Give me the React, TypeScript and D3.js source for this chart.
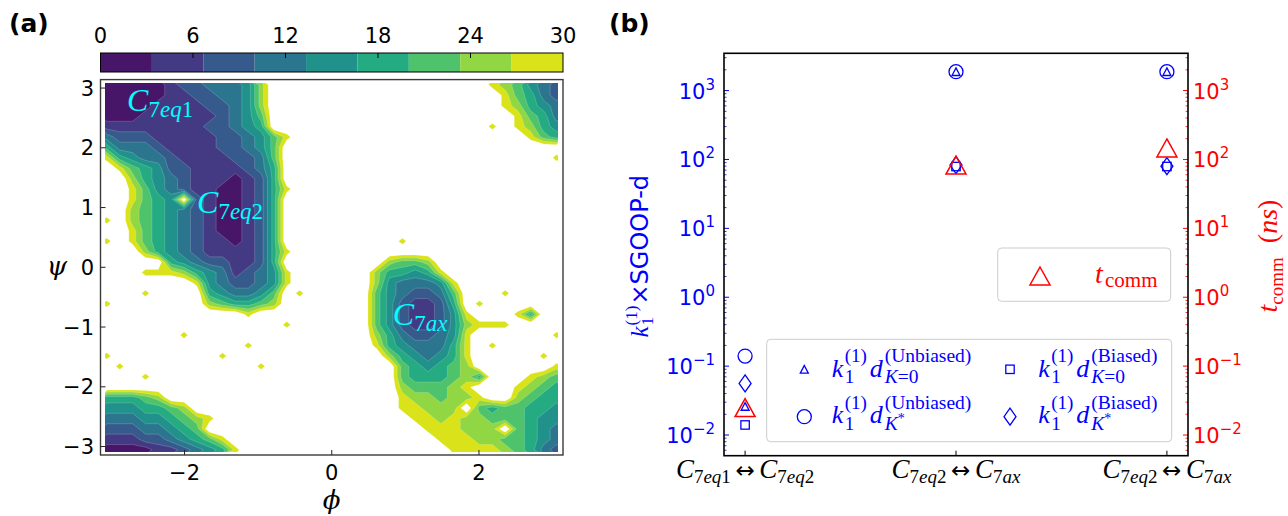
import * as d3 from 'd3';

// ---------------- panel (a): free energy surface ----------------
// contour levels (colorbar 0..30, nine bands)
const fesLevels = [0, 10 / 3, 20 / 3, 10, 40 / 3, 50 / 3, 20, 70 / 3, 80 / 3, 30];
const colorbarTicks = [0, 6, 12, 18, 24, 30];
const EMPTY_FES = 34; // not sampled -> above the top level

// band index (0..8) on a 36x36 grid,
// rows from psi=+pi down to -pi, columns from phi=-pi to +pi.
// numbers are runs of unsampled (white) cells.
const fesRuns: (string | number)[][] = [
  ['0000012233347', 17, '876432'],
  ['0000011223347', 18, '86532'],
  ['0000111122347', 18, '87543'],
  ['0001111112346', 19, '8653'],
  ['1111111122345', 17, '8', 1, '8754'],
  ['322211111223468', 18, '865'],
  ['53332111122346', 22],
  ['85433211112236', 21, '8'],
  [1, '8654221111235', 22],
  [2, '754321110125', 22],
  [2, '8643211001258', 21],
  [2, '8654', 1, '2100125', 22],
  [2, '765432100125', 22],
  ['8', 1, '765432100125', 22],
  [2, '865432100125', 22],
  ['8', 1, '865432110125', 9, '8', 12],
  [3, '754321111258', 21],
  [5, '543221125', 8, '7667', 10],
  [3, '888754312348', 6, '755458', 9],
  [7, '84322348', 6, '7433348', 8],
  [3, '8', 4, '543346', 1, '8', 5, '6432236', 3, '8', 4],
  ['8', 7, '765567', 7, '6421125', 1, '8', 6],
  [11, '8', 9, '64211248', 3, '85', 2],
  [14, '8', 6, '64211247888', 4],
  [6, '8', 14, '75322348', 6, '8'],
  [11, '8', 9, '85433358', 1, '8', 5],
  ['8', 8, '8', 12, '7543458', 5, '8', 1],
  [1, '8', 10, '8', 10, '654567', 6, '8'],
  [3, '8', 19, '6555675', 3, '876'],
  [23, '766678', 3, '8765'],
  ['55567', 18, '8776778', 2, '7655'],
  ['4445567', 16, '88777', 1, '6566554'],
  ['333445678', 15, '887877666544'],
  ['22233456', 17, '888777', 1, '6543'],
  ['1112234568', 16, '8887766543'],
  ['00001123458', 16, '888876532'],
];

const phiTicks = [-2, 0, 2];
const psiTicks = [-3, -2, -1, 0, 1, 2, 3];
const basinLabels = [
  { sub: '7eq1', phi: -2.78, psi: 2.62 },
  { sub: '7eq2', phi: -1.83, psi: 0.91 },
  { sub: '7ax', phi: 0.83, psi: -0.97 },
];

// ---------------- panel (b): rates per transition ----------------
const transitions = [['7eq1', '7eq2'], ['7eq2', '7ax'], ['7eq2', '7ax']];
const unbiasedK0 = [0.026, 1880, 1880];
const unbiasedKStar = [0.14, 1880, 1880];
const biasedK0 = [0.014, 79, 79];
const biasedKStar = [0.056, 83, 80];
const tComm = [0.025, 83, 147];
const logDecades = [-2, -1, 0, 1, 2, 3];

// ---------------- scales ----------------
const xA = d3.scaleLinear().domain([-Math.PI, Math.PI]).range([100.5, 563]);
const yA = d3.scaleLinear().domain([-Math.PI, Math.PI]).range([455, 79.6]);
const cbX = d3.scaleLinear().domain([0, 30]).range([100.5, 563]);
const bandColor = (k: number) => d3.interpolateViridis((k + 0.5) / 9);

const fesRows = fesRuns.map(r => r.map(p => (typeof p === 'number' ? '.'.repeat(p) : p)).join(''));
const nx = fesRows[0].length;
const ny = fesRows.length;
const fesValues = fesRows.flatMap(row =>
  Array.from(row, ch => (ch === '.' ? -EMPTY_FES : -(fesLevels[+ch] + fesLevels[+ch + 1]) / 2))
);
const fesContours = d3.contours().size([nx, ny]).thresholds(fesLevels.slice(1).map(t => -t))(fesValues);

const gx = d3.scaleLinear().domain([0, nx]).range([xA(-Math.PI), xA(Math.PI)]);
const gy = d3.scaleLinear().domain([0, ny]).range([yA(Math.PI), yA(-Math.PI)]);
const gridPath = d3.geoPath(
  d3.geoTransform({
    point(x: number, y: number) {
      this.stream.point(gx(x), gy(y));
    },
  })
);

const xB = d3.scaleLinear().domain([-0.1, 2.1]).range([724, 1188]);
const yB = d3.scaleLog().domain([10 ** -2.3, 10 ** 3.541]).range([455.7, 53.3]);
const minorB = yB.ticks().filter(v => Math.abs(Math.log10(v) - Math.round(Math.log10(v))) > 1e-6);

const minus = (v: number) => (v < 0 ? '\u2212' + Math.abs(v) : String(v));
const SERIF = 'Liberation Serif';

const mathSub = (s: string) =>
  Array.from(s).map((ch, i) => (
    <tspan key={i} fontStyle={/\d/.test(ch) ? 'normal' : 'italic'}>
      {ch}
    </tspan>
  ));

function Marker({ shape, x, y, color, sw = 1.3 }: any) {
  const common = { fill: 'none', stroke: color, strokeWidth: sw };
  if (shape === 'circle') return <circle cx={x} cy={y} r={7} {...common} />;
  if (shape === 'square') return <rect x={x - 4.2} y={y - 4.2} width={8.4} height={8.4} {...common} />;
  if (shape === 'diamond')
    return <path d={`M${x},${y - 8.5}L${x + 6},${y}L${x},${y + 8.5}L${x - 6},${y}Z`} {...common} />;
  if (shape === 'bigtri')
    return <path d={`M${x},${y - 9}L${x + 10},${y + 9}L${x - 10},${y + 9}Z`} {...common} />;
  return <path d={`M${x},${y - 3.8}L${x + 4},${y + 3.8}L${x - 4},${y + 3.8}Z`} {...common} />;
}

function KD({ x, y, sup, star }: { x: number; y: number; sup: string; star: boolean }) {
  return (
    <g fontFamily={SERIF} fill="blue">
      <text x={x} y={y} fontSize={26} fontStyle="italic">k</text>
      <text x={x + 13} y={y - 14.5} fontSize={19}>(1)</text>
      <text x={x + 13} y={y + 6.5} fontSize={19}>1</text>
      <text x={x + 38} y={y} fontSize={26} fontStyle="italic">d</text>
      <text x={x + 53} y={y - 14.5} fontSize={19.5}>({sup})</text>
      <text x={x + 53} y={y + 6.5} fontSize={19.5}>
        <tspan fontStyle="italic">K</tspan>
        {star ? (
          <tspan fontSize={14} dy={-7}>*</tspan>
        ) : (
          '=0'
        )}
      </text>
    </g>
  );
}

function PowerLabel({ x, y, e, color, anchor }: any) {
  return (
    <text x={x} y={y} fontSize={21} fill={color} textAnchor={anchor}>
      10
      <tspan fontSize={15} dy={-9}>{minus(e)}</tspan>
    </text>
  );
}

function PanelA() {
  return (
    <g>
      <defs>
        <clipPath id="fesClip">
          <rect x={105} y={83} width={453} height={369} />
        </clipPath>
      </defs>
      <g clipPath="url(#fesClip)">
        {fesContours.map(c => {
          const k = fesLevels.findIndex(t => Math.abs(-t - c.value) < 1e-9) - 1;
          return (
            <path
              key={k}
              d={gridPath(c as any) || ''}
              fill={bandColor(k)}
              fillRule="evenodd"
              stroke="#ffffff"
              strokeOpacity={0.3}
              strokeWidth={0.6}
            />
          );
        })}
      </g>
      <rect x={100.5} y={79.6} width={462.5} height={375.4} fill="none" stroke="#3a3a3a" strokeWidth={1.4} />
      {phiTicks.map(t => (
        <g key={t}>
          <line x1={xA(t)} x2={xA(t)} y1={455} y2={450} stroke="#222" />
          <text x={xA(t)} y={480} fontSize={21} textAnchor="middle">{minus(t)}</text>
        </g>
      ))}
      {psiTicks.map(t => (
        <g key={t}>
          <line x1={100.5} x2={105.5} y1={yA(t)} y2={yA(t)} stroke="#222" />
          <text x={94} y={yA(t) + 7.5} fontSize={21} textAnchor="end">{minus(t)}</text>
        </g>
      ))}
      <text x={331.7} y={509} fontFamily="DejaVu Serif" fontStyle="italic" fontSize={26} textAnchor="middle">ϕ</text>
      <text x={57} y={275} fontFamily="DejaVu Serif" fontStyle="italic" fontSize={26} textAnchor="middle">ψ</text>
      {basinLabels.map(b => (
        <text key={b.sub} x={xA(b.phi)} y={yA(b.psi)} fill="#00ffff" fontFamily={SERIF} fontStyle="italic" fontSize={32}>
          C<tspan fontSize={23} dy={6}>{mathSub(b.sub)}</tspan>
        </text>
      ))}
      {/* colorbar */}
      {fesLevels.slice(0, -1).map((t, k) => (
        <rect key={k} x={cbX(t)} y={53} width={cbX(fesLevels[k + 1]) - cbX(t)} height={19} fill={bandColor(k)} />
      ))}
      <rect x={100.5} y={53} width={462.5} height={19} fill="none" stroke="#000" strokeWidth={1} />
      {colorbarTicks.map(t => (
        <g key={t}>
          {t > 0 && t < 30 && <line x1={cbX(t)} x2={cbX(t)} y1={53} y2={58} stroke="#000" />}
          <text x={cbX(t)} y={43} fontSize={21} textAnchor="middle">{t}</text>
        </g>
      ))}
      <text x={9} y={32} fontSize={25} fontWeight="bold">(a)</text>
    </g>
  );
}

function PanelB() {
  const cats = transitions.map((_, i) => i);
  return (
    <g>
      {/* data */}
      {cats.map(i => (
        <g key={i}>
          <Marker shape="circle" x={xB(i)} y={yB(unbiasedKStar[i])} color="blue" />
          <Marker shape="tri" x={xB(i)} y={yB(unbiasedK0[i])} color="blue" />
          <Marker shape="diamond" x={xB(i)} y={yB(biasedKStar[i])} color="blue" />
          <Marker shape="square" x={xB(i)} y={yB(biasedK0[i])} color="blue" />
          <Marker shape="bigtri" x={xB(i)} y={yB(tComm[i])} color="red" sw={1.5} />
        </g>
      ))}
      {/* legends */}
      <rect x={997.7} y={248} width={173} height={53.3} rx={4} fill="#fff" fillOpacity={0.8} stroke="#cccccc" />
      <Marker shape="bigtri" x={1040} y={276} color="red" sw={1.5} />
      <text x={1095} y={283} fontFamily={SERIF} fontSize={28} fill="red" fontStyle="italic">t</text>
      <text x={1105} y={287} fontFamily={SERIF} fontSize={21} fill="red">comm</text>

      <rect x={766.7} y={339.3} width={405} height={102.4} rx={4} fill="#fff" fillOpacity={0.8} stroke="#cccccc" />
      <Marker shape="tri" x={804.3} y={369.3} color="blue" />
      <Marker shape="circle" x={804.3} y={416.7} color="blue" />
      <Marker shape="square" x={1010} y={369.3} color="blue" />
      <Marker shape="diamond" x={1010} y={416.7} color="blue" />
      <KD x={831.7} y={376.7} sup="Unbiased" star={false} />
      <KD x={831.7} y={423.3} sup="Unbiased" star={true} />
      <KD x={1038.3} y={376.7} sup="Biased" star={false} />
      <KD x={1038.3} y={423.3} sup="Biased" star={true} />

      {/* axes */}
      {minorB.map(v => (
        <g key={v}>
          <line x1={724} x2={726.5} y1={yB(v)} y2={yB(v)} stroke="blue" strokeWidth={0.8} />
          <line x1={1188} x2={1185.5} y1={yB(v)} y2={yB(v)} stroke="red" strokeWidth={0.8} />
        </g>
      ))}
      {logDecades.map(e => (
        <g key={e}>
          <line x1={724} x2={729} y1={yB(10 ** e)} y2={yB(10 ** e)} stroke="blue" strokeWidth={1} />
          <line x1={1188} x2={1183} y1={yB(10 ** e)} y2={yB(10 ** e)} stroke="red" strokeWidth={1} />
          <PowerLabel x={715} y={yB(10 ** e) + 8} e={e} color="blue" anchor="end" />
          <PowerLabel x={1193} y={yB(10 ** e) + 8} e={e} color="red" anchor="start" />
        </g>
      ))}
      {cats.map(i => (
        <g key={i}>
          <line x1={xB(i)} x2={xB(i)} y1={455.7} y2={450.7} stroke="#000" />
          <text x={xB(i)} y={478} textAnchor="middle" fontFamily={SERIF} fontSize={27}>
            <tspan fontStyle="italic">C</tspan>
            <tspan fontSize={19} dy={5}>{mathSub(transitions[i][0])}</tspan>
            <tspan dy={-5} fontFamily="DejaVu Sans" fontSize={23}>{'\u2009\u2194\u2009'}</tspan>
            <tspan fontStyle="italic">C</tspan>
            <tspan fontSize={19} dy={5}>{mathSub(transitions[i][1])}</tspan>
          </text>
        </g>
      ))}
      <rect x={724} y={53.3} width={464} height={402.4} fill="none" stroke="#000" strokeWidth={1.6} />

      {/* axis labels */}
      <g transform="translate(648,254.5) rotate(-90)" fill="blue">
        <text x={-83} y={0} fontFamily={SERIF} fontStyle="italic" fontSize={25}>k</text>
        <text x={-71} y={-11} fontFamily={SERIF} fontSize={17}>(1)</text>
        <text x={-71} y={5} fontFamily={SERIF} fontSize={17}>1</text>
        <text x={-50} y={0} fontSize={24}>×SGOOP-d</text>
      </g>
      <g transform="translate(1277,256) rotate(-90)">
        <text textAnchor="middle" fontFamily={SERIF} fontSize={28} fill="red">
          <tspan fontStyle="italic">t</tspan>
          <tspan fontSize={19} dy={6}>comm</tspan>
          <tspan dy={-6}>{'\u2002('}</tspan>
          <tspan fontStyle="italic">ns</tspan>
          <tspan>)</tspan>
        </text>
      </g>
      <text x={609} y={32} fontSize={25} fontWeight="bold">(b)</text>
    </g>
  );
}

export default function App() {
  return (
    <svg
      width={1288}
      height={516}
      style={{ position: 'absolute', left: 0, top: 0, background: '#fff' }}
      fontFamily="DejaVu Sans"
    >
      <PanelA />
      <PanelB />
    </svg>
  );
}
